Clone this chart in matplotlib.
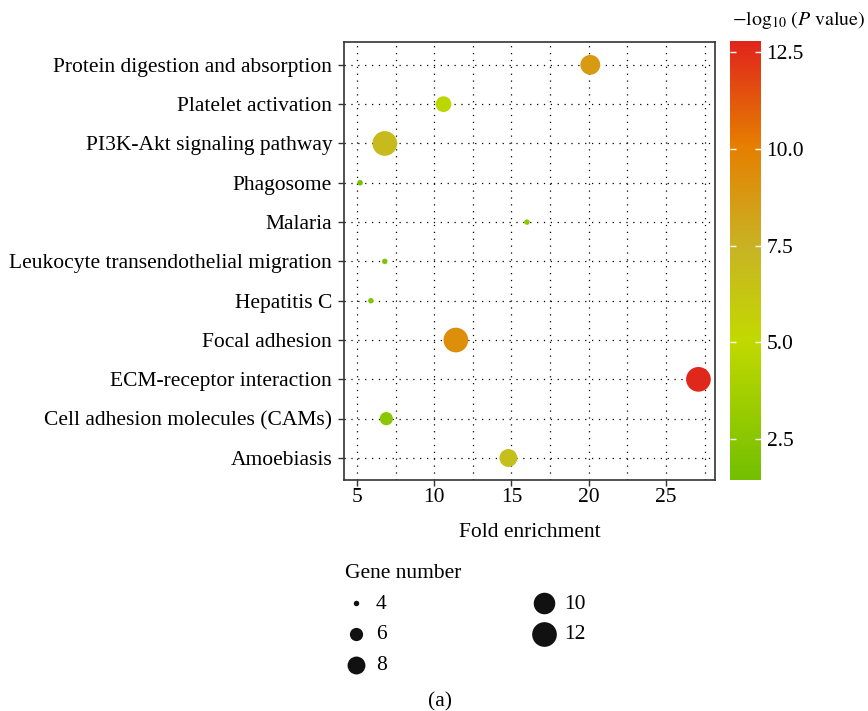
import numpy as np
import matplotlib
matplotlib.use("Agg")
import matplotlib.pyplot as plt
from matplotlib.colors import LinearSegmentedColormap, Normalize
from matplotlib.ticker import MultipleLocator

plt.rcParams['font.family'] = ['Liberation Serif', 'DejaVu Serif']
plt.rcParams['mathtext.fontset'] = 'stix'

# Datos (de abajo hacia arriba)
pathways = ["Amoebiasis", "Cell adhesion molecules (CAMs)", "ECM-receptor interaction",
            "Focal adhesion", "Hepatitis C", "Leukocyte transendothelial migration",
            "Malaria", "Phagosome", "PI3K-Akt signaling pathway", "Platelet activation",
            "Protein digestion and absorption"]
fold = [14.8, 6.9, 27.1, 11.4, 5.9, 6.8, 16.0, 5.2, 6.8, 10.6, 20.1]
gene_count = [8, 6, 12, 12, 4, 4, 4, 4, 12, 7, 9]
neglogp = [6.8, 2.6, 12.7, 9.3, 2.2, 2.0, 2.8, 1.6, 7.0, 4.8, 8.7]

legend_counts = [4, 6, 8, 10, 12]
cbar_ticks = [2.5, 5.0, 7.5, 10.0, 12.5]

FS = 15.5

# Escala de color verde -> amarillo -> naranja -> rojo
cmap = LinearSegmentedColormap.from_list("gyr", [
    (0.0, "#72bf00"), (0.32, "#c2d900"), (0.53, "#c8b324"),
    (0.76, "#e67f00"), (1.0, "#e0241c")])
norm = Normalize(vmin=1.44, vmax=12.79)

def area(g):
    # diámetro^2 en px, convertido a puntos^2
    g = np.asarray(g, dtype=float)
    return 0.5184 * (30 + 72.5 * (g - 4))

fig = plt.figure(figsize=(8.68, 7.11), dpi=100)
ax = fig.add_axes([0.3963, 0.3249, 0.4274, 0.616])

y = np.arange(1, len(pathways) + 1)
ax.scatter(fold, y, s=area(gene_count), c=neglogp, cmap=cmap, norm=norm,
           linewidths=0, zorder=3)

ax.set_xlim(4.16, 28.17)
ax.set_ylim(0.44, 11.58)
ax.set_yticks(y)
ax.set_yticklabels(pathways)
ax.xaxis.set_major_locator(MultipleLocator(5))
ax.xaxis.set_minor_locator(MultipleLocator(2.5))
ax.tick_params(axis='x', which='minor', length=0)
ax.tick_params(axis='both', which='major', labelsize=FS, length=4, width=1,
               color='#333333', pad=2)
ax.tick_params(axis='y', pad=4.5)

dot = (0, (1, 4.5))
ax.grid(True, axis='x', which='both', color='black', linewidth=0.9, linestyle=dot)
ax.grid(True, axis='y', which='major', color='black', linewidth=0.9, linestyle=dot)
ax.set_axisbelow(True)
for sp in ax.spines.values():
    sp.set_linewidth(1.2)
    sp.set_color('#333333')

ax.set_xlabel("Fold enrichment", fontsize=FS, labelpad=11)

# Barra de color
cax = fig.add_axes([0.841, 0.3249, 0.0357, 0.6174])
sm = plt.cm.ScalarMappable(cmap=cmap, norm=norm)
cb = fig.colorbar(sm, cax=cax, ticks=cbar_ticks)
cb.outline.set_visible(False)
cb.ax.tick_params(direction='in', color='white', length=4, width=1,
                  left=True, right=True, labelsize=FS, pad=4)
cb.ax.set_yticklabels(["%.1f" % t for t in cbar_ticks])
fig.text(0.997, 0.972, r'$\mathrm{-log}_{10}\ (P\ \mathrm{value})$', ha='right', va='center',
         fontsize=14.3)

# Leyenda de tamaño (título aparte)
fig.text(0.3975, 1 - 573 / 711, "Gene number", ha='left', va='center', fontsize=FS)
handles = [ax.scatter([], [], s=area(g), color='#111111', linewidths=0) for g in legend_counts]
leg = fig.legend(handles, [str(g) for g in legend_counts], ncol=2,
                 loc='upper left', bbox_to_anchor=(0.380, 0.1864), frameon=False,
                 fontsize=FS, columnspacing=6.8, labelspacing=0.5,
                 handletextpad=0.43, handlelength=1.0, borderpad=0.2, scatterpoints=1)

fig.text(0.507, 0.0135, "(a)", ha='center', va='center', fontsize=FS)

plt.savefig("out.png", dpi=100)
